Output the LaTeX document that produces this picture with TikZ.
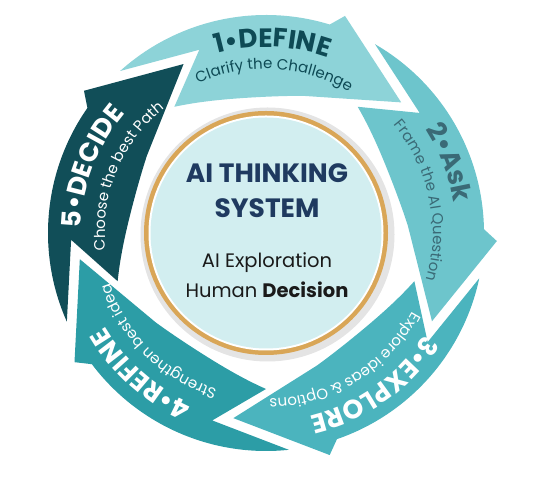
\documentclass[tikz,border=0pt]{standalone}
\usepackage{fontspec}
\setmainfont{Poppins}
\usetikzlibrary{decorations.text}
\definecolor{arA}{HTML}{8DD3D8}
\definecolor{arB}{HTML}{6DC5CC}
\definecolor{arC}{HTML}{4BB4BE}
\definecolor{arD}{HTML}{2C9DA6}
\definecolor{arE}{HTML}{114E58}
\definecolor{txA}{HTML}{0E4A55}
\definecolor{txB}{HTML}{3A6A76}
\definecolor{navyt}{HTML}{1F3A60}
\definecolor{goldr}{HTML}{D9A657}
\definecolor{fillc}{HTML}{D2EEF0}
\definecolor{shadowc}{HTML}{E4E4E4}
\definecolor{inkc}{HTML}{1A1A1A}
\newcommand\artitle{\bfseries\fontsize{26.5}{26.5}\selectfont}
\newcommand\arsubt{\fontsize{15}{15}\selectfont}
\newcommand\cyclearrow[2]{%
  \pgfmathsetmacro\cyA{#1+2}%
  \pgfmathsetmacro\cyB{#1-57}%
  \pgfmathsetmacro\cyC{#1-60}%
  \pgfmathsetmacro\cyD{#1-86}%
  \pgfmathsetmacro\cyE{#1-55}%
  \pgfmathsetmacro\cyF{#1-4}%
  \pgfmathsetmacro\cyG{#1-20}%
  \fill[#2] (\cyA:218) arc[start angle=\cyA, end angle=\cyB, radius=218]
    -- (\cyC:231) -- (\cyD:188) -- (\cyE:142)
    -- plot[domain=\cyE:\cyF, samples=30, variable=\pp]
       (\pp:{137+0.01825*(#1-\pp-30)*(#1-\pp-30)-0.2563*(#1-\pp-30)})
    -- (\cyG:195) -- cycle;%
}
\newcommand\arctext[4]{% center angle, radius, text, half-span
  \pgfmathsetmacro\cyS{#1+#4}%
  \pgfmathsetmacro\cyT{#1-#4}%
  \path[decorate, decoration={text along path, text align=center, text={#3}}]
    (\cyS:#2) arc[start angle=\cyS, end angle=\cyT, radius=#2];%
}
\begin{document}
\begin{tikzpicture}[x=1pt, y=1pt]
\useasboundingbox (0,0) rectangle (538,484);
\begin{scope}[shift={(266,251)}]
  % central disc
  \fill[shadowc] (1.5,-1.5) circle[radius=127];
  \fill[goldr] (0,0) circle[radius=122];
  \fill[white] (0,0) circle[radius=117.5];
  \fill[fillc] (0,0) circle[radius=115.5];
  % arrows
  \cyclearrow{130}{arA}
  \cyclearrow{58}{arB}
  \cyclearrow{-14}{arC}
  \cyclearrow{-86}{arD}
  \cyclearrow{-158}{arE}
  % arrow texts
  \arctext{88}{186}{|\artitle\color{txA}|1•DEFINE}{45}
  \arctext{87}{164}{|\arsubt\color{txA}|Clarify the Challenge}{45}
  \arctext{21}{190}{|\artitle\color{txB}|2•Ask}{40}
  \arctext{12}{167}{|\arsubt\color{txB}|Frame the AI Question}{45}
  \arctext{-54.5}{188}{|\artitle\color{white}|3•EXPLORE}{45}
  \arctext{-58.5}{166}{|\arsubt\color{white}|Explore ideas {\&} Options}{45}
  \arctext{228.5}{186}{|\artitle\color{white}|4•REFINE}{45}
  \arctext{225.3}{164}{|\arsubt\color{white}|Strengthen best idea}{45}
  \arctext{159}{185}{|\artitle\color{white}|5•DECIDE}{45}
  \arctext{157.7}{161}{|\arsubt\color{white}|Choose the best Path}{45}
  % centre texts
  \node[anchor=base, inner sep=0, text=navyt, font=\bfseries\fontsize{26.5}{26.5}\selectfont] (title1) at (1,50) {AI THINKING};
  \node[anchor=base, inner sep=0, text=navyt, font=\bfseries\fontsize{26.5}{26.5}\selectfont] (title2) at (1,15) {SYSTEM};
  \node[anchor=base, inner sep=0, text=inkc, font=\fontsize{19.5}{19.5}\selectfont] (line1) at (1,-35) {AI Exploration};
  \node[anchor=base, inner sep=0, text=inkc, font=\fontsize{19.5}{19.5}\selectfont] (line2) at (1,-65) {Human \textbf{Decision}};
\end{scope}
\end{tikzpicture}
\end{document}
